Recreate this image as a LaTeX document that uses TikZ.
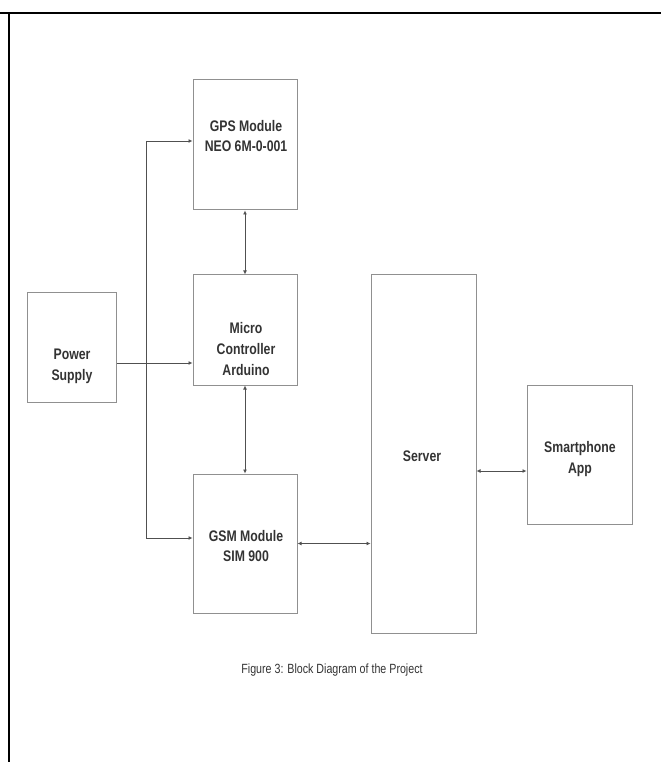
\documentclass[tikz,border=0pt]{standalone}
\usepackage{fontspec}
\setmainfont{Liberation Sans}[FakeStretch=0.8]
\usepackage{tikz}
\usetikzlibrary{positioning,arrows.meta,calc,fit}
\definecolor{BDframe}{HTML}{000000}
\definecolor{BDbox}{HTML}{909090}
\definecolor{BDline}{HTML}{505050}
\definecolor{BDtext}{HTML}{333333}
\tikzset{
  blockbox/.style={draw=BDbox, line width=0.75pt, inner sep=0pt},
  blocktxt/.style={align=center, text=BDtext, font=\fontsize{11.5}{15.5}\selectfont\bfseries, inner sep=0pt},
  captxt/.style={text=BDtext, font=\fontsize{10}{12}\selectfont, inner sep=0pt},
  flowarr/.style={-{Latex[length=3pt,width=3pt]}, draw=BDline, line width=0.7pt},
  bothar/.style={{Latex[length=3pt,width=3pt]}-{Latex[length=3pt,width=3pt]}, draw=BDline, line width=0.7pt},
  wire/.style={draw=BDline, line width=0.7pt}
}

\begin{document}
\begin{tikzpicture}[x=0.75pt, y=-0.75pt]
\useasboundingbox (0,0) rectangle (661,762);
% page frame
\draw[BDframe, line width=1.6pt] (0,13) -- (661,13);
\draw[BDframe, line width=1.6pt] (9,13) -- (9,762);

% blocks
\node[blockbox, fit={(193,80) (297,210)}] (gps) {};
\node[blockbox, fit={(193,275) (297,385)}] (mcu) {};
\node[blockbox, fit={(193,474) (297,613)}] (gsm) {};
\node[blockbox, fit={(27,293) (116,402)}] (pwr) {};
\node[blockbox, fit={(371,275) (476,633)}] (srv) {};
\node[blockbox, fit={(527,385) (632,524)}] (app) {};

\node[blocktxt] (gpsT) at (246,136) {GPS Module\\NEO 6M-0-001};
\node[blocktxt] (mcuT) at (246,349) {Micro\\Controller\\Arduino};
\node[blocktxt] (gsmT) at (246,546) {GSM Module\\SIM 900};
\node[blocktxt] (pwrT) at (72,366) {Power\\Supply};
\node[blocktxt] (srvT) at (422,456) {Server};
\node[blocktxt] (appT) at (580,459) {Smartphone\\App};

\node[captxt] (cap) at (332,670) {Figure 3: Block Diagram of the Project};

% connectors
\coordinate (jn) at (146,363);
\coordinate (jt) at (146,141);
\coordinate (jb) at (146,538);
\coordinate (sa) at (0,471);
\draw[wire] (pwr.east |- jn) -- (jn);
\draw[flowarr] (jn) -- (jn -| mcu.west);
\draw[wire] (jt) -- (jb);
\draw[flowarr] (jt) -- (jt -| gps.west);
\draw[flowarr] (jb) -- (jb -| gsm.west);
\draw[bothar] (gps.south) -- (mcu.north);
\draw[bothar] (mcu.south) -- (gsm.north);
\draw[bothar] (gsm.east) -- (gsm.east -| srv.west);
\draw[bothar] (srv.east |- sa) -- (app.west |- sa);
\end{tikzpicture}
\end{document}
